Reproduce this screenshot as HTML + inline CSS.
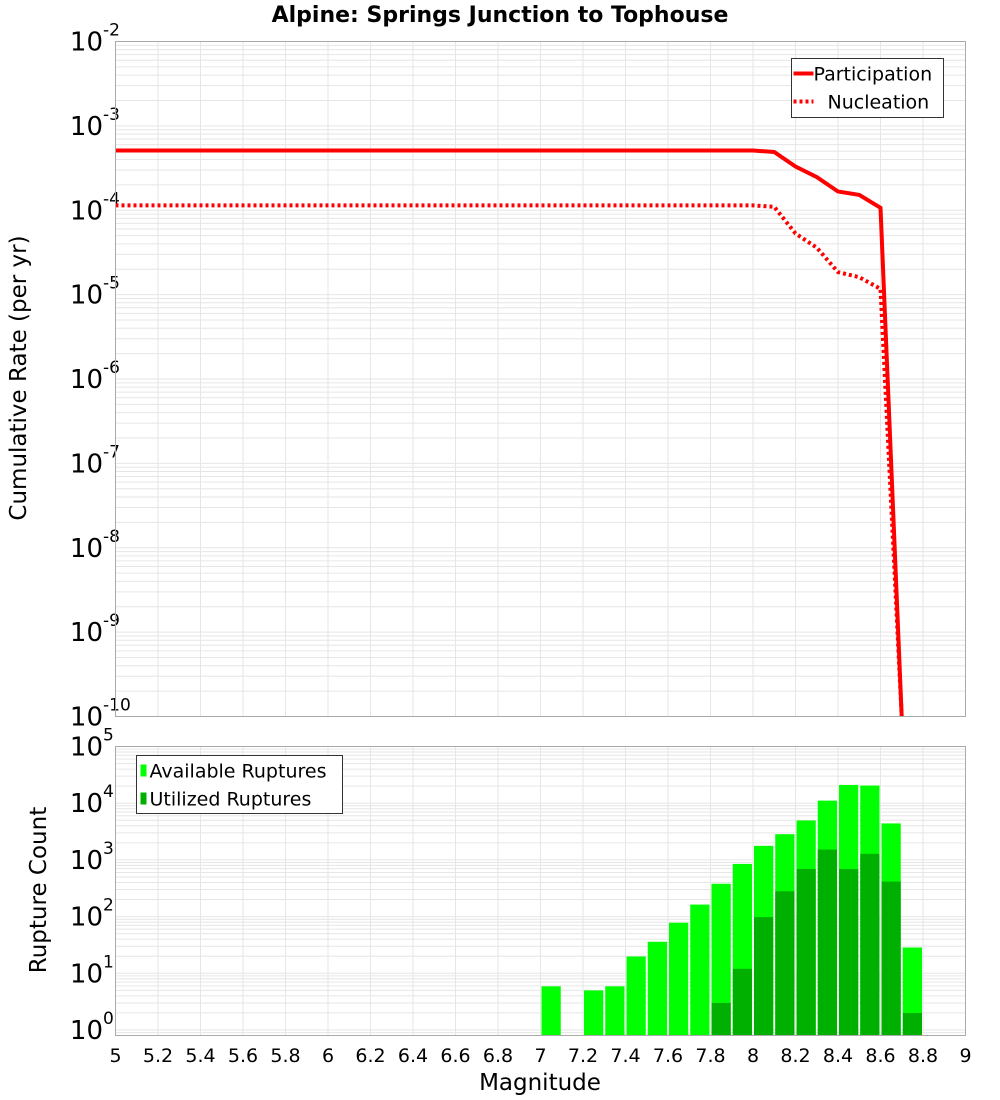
<!DOCTYPE html>
<html><head><meta charset="utf-8"><style>
body{margin:0;background:#fff;}
svg{display:block;font-family:"DejaVu Sans","Liberation Sans",sans-serif;}
</style></head><body>
<svg id="c" width="1000" height="1100" viewBox="0 0 1000 1100">
<text x="500" y="22" text-anchor="middle" font-size="22" font-weight="bold">Alpine: Springs Junction to Tophouse</text>
<g id="topPlot"></g>
<g id="botPlot"></g>
<text transform="translate(26,378) rotate(-90)" text-anchor="middle" font-size="23">Cumulative Rate (per yr)</text>
<text transform="translate(46,890) rotate(-90)" text-anchor="middle" font-size="23">Rupture Count</text>
<text x="540" y="1090" text-anchor="middle" font-size="23">Magnitude</text>
</svg>
<script>
const rateMags=[5.0,5.1,5.2,5.3,5.4,5.5,5.6,5.7,5.8,5.9,6.0,6.1,6.2,6.3,6.4,6.5,6.6,6.7,6.8,6.9,7.0,7.1,7.2,7.3,7.4,7.5,7.6,7.7,7.8,7.9,8.0,8.1,8.2,8.3,8.4,8.5,8.6,8.7];
const participation=[5.1e-4,5.1e-4,5.1e-4,5.1e-4,5.1e-4,5.1e-4,5.1e-4,5.1e-4,5.1e-4,5.1e-4,5.1e-4,5.1e-4,5.1e-4,5.1e-4,5.1e-4,5.1e-4,5.1e-4,5.1e-4,5.1e-4,5.1e-4,5.1e-4,5.1e-4,5.1e-4,5.1e-4,5.1e-4,5.1e-4,5.1e-4,5.1e-4,5.1e-4,5.1e-4,5.1e-4,4.9e-4,3.3e-4,2.47e-4,1.67e-4,1.52e-4,1.07e-4,1e-10];
const nucleation=[1.14e-4,1.14e-4,1.14e-4,1.14e-4,1.14e-4,1.14e-4,1.14e-4,1.14e-4,1.14e-4,1.14e-4,1.14e-4,1.14e-4,1.14e-4,1.14e-4,1.14e-4,1.14e-4,1.14e-4,1.14e-4,1.14e-4,1.14e-4,1.14e-4,1.14e-4,1.14e-4,1.14e-4,1.14e-4,1.14e-4,1.14e-4,1.14e-4,1.14e-4,1.14e-4,1.14e-4,1.1e-4,5.3e-5,3.6e-5,1.85e-5,1.61e-5,1.17e-5,1e-10];
const barMags=[7.0,7.2,7.3,7.4,7.5,7.6,7.7,7.8,7.9,8.0,8.1,8.2,8.3,8.4,8.5,8.6,8.7];
const available=[5.9,5.0,5.9,19.8,36,78,163,380,850,1770,2840,4960,11100,21000,20500,4400,28.5];
const utilized=[0,0,0,0,0,0,0,3,12,98,280,690,1520,690,1280,415,2];
const xTicks=[5,5.2,5.4,5.6,5.8,6,6.2,6.4,6.6,6.8,7,7.2,7.4,7.6,7.8,8,8.2,8.4,8.6,8.8,9];
const topDecades=[-2,-3,-4,-5,-6,-7,-8,-9,-10];
const botDecades=[0,1,2,3,4,5];

const NS="http://www.w3.org/2000/svg";
const L=115.5,R=965.5;
const T1=41.5,B1=716.5,T2=746.5,B2=1035.5;
const xs=m=>L+(m-5)/(9-5)*(R-L);
const y1=v=>T1+(-2-Math.log10(v))/8*(B1-T1);
const botMin=Math.log10(0.8),botMax=5;
const y2=v=>B2-(Math.log10(v)-botMin)/(botMax-botMin)*(B2-T2);
function el(p,t,a){const e=document.createElementNS(NS,t);for(const k in a)e.setAttribute(k,a[k]);p.appendChild(e);return e;}
const gTop=document.getElementById('topPlot'),gBot=document.getElementById('botPlot');

function grid(g,T,B,yf,lo,hi){
  for(let d=lo;d<hi;d++)for(let k=1;k<10;k++){const v=k*Math.pow(10,d);const y=yf(v);if(y<T-0.1||y>B+0.1)continue;
    const ln=el(g,'line',{x1:L,x2:R,y1:y,y2:y,stroke:'#e6e6e6','stroke-width':1});
    
    }
  xTicks.forEach(t=>{const x=xs(t);const ln=el(g,'line',{x1:x,x2:x,y1:T,y2:B,stroke:'#e6e6e6','stroke-width':1});
    
    });
}
grid(gTop,T1,B1,y1,-10,-1);
grid(gBot,T2,B2,y2,-1,6);

function ytick(g,d,y){const t=el(g,'text',{x:103,y:y+9,'text-anchor':'end','font-size':26});
  
  
  t.textContent='10';
  const s=el(g,'text',{x:103,y:y-6,'font-size':17});
  
  
  s.textContent=String(d);}
topDecades.forEach(d=>ytick(gTop,d,y1(Math.pow(10,d))));
botDecades.forEach(d=>ytick(gBot,d,y2(Math.pow(10,d))));

barMags.forEach((m,i)=>{
  const x0=xs(m)+1,w=xs(m+0.1)-xs(m)-2;
  const ya=y2(available[i]);
  const r=el(gBot,'rect',{x:x0,y:ya,width:w,height:B2-ya,fill:'#00ff00'});
  
  
  if(utilized[i]>0){const yu=y2(utilized[i]);
    const u=el(gBot,'rect',{x:x0,y:yu,width:w,height:B2-yu,fill:'#00b000'});
    
    }
});

const cp=el(gTop,'clipPath',{id:'cp'});el(cp,'rect',{x:L,y:T1,width:R-L,height:B1-T1+2});
function line(vals,dash,name){const d=rateMags.map((m,i)=>(i?'L':'M')+xs(m).toFixed(1)+','+y1(vals[i]).toFixed(1)).join('');
  const p=el(gTop,'path',{d:d,fill:'none',stroke:'#ff0000','stroke-width':4,'clip-path':'url(#cp)'});
  if(dash)p.setAttribute('stroke-dasharray',dash);
  
  }
line(nucleation,'3,3','nucleation-line');
line(participation,null,'participation-line');

[[gTop,T1,B1],[gBot,T2,B2]].forEach(([g,T,B])=>{const f=el(g,'rect',{x:L,y:T,width:R-L,height:B-T,fill:'none',stroke:'#aaaaaa','stroke-width':1});
  
  });

xTicks.forEach(t=>{const tx=el(gBot,'text',{x:xs(t),y:1062,'text-anchor':'middle','font-size':19});
  
  
  tx.textContent=String(t);});

function legend(g,x,y,w,h,items){const b=el(g,'rect',{x:x,y:y,width:w,height:h,fill:'#fff',stroke:'#333','stroke-width':1});
  
  
  items.forEach((it,i)=>{const yy=y+15+i*28;
    if(it.type==='line'){const l=el(g,'line',{x1:x+2,x2:x+22,y1:yy,y2:yy,stroke:'#ff0000','stroke-width':4});if(it.dash)l.setAttribute('stroke-dasharray',it.dash);
      
      }
    else{const r=el(g,'rect',{x:x+4,y:yy-6,width:6,height:12,fill:it.color});
      
      }
    const t=el(g,'text',{x:x+it.tx,y:yy+7,'font-size':19});
    
    
    t.textContent=it.label;});}
legend(gTop,791.5,58.5,152,59,[{type:'line',label:'Participation',tx:22},{type:'line',dash:'3,3',label:'Nucleation',tx:36}]);
legend(gBot,136.5,755.5,206,58,[{type:'rect',color:'#00ff00',label:'Available Ruptures',tx:13},{type:'rect',color:'#00b000',label:'Utilized Ruptures',tx:13}]);
</script>
</body></html>
